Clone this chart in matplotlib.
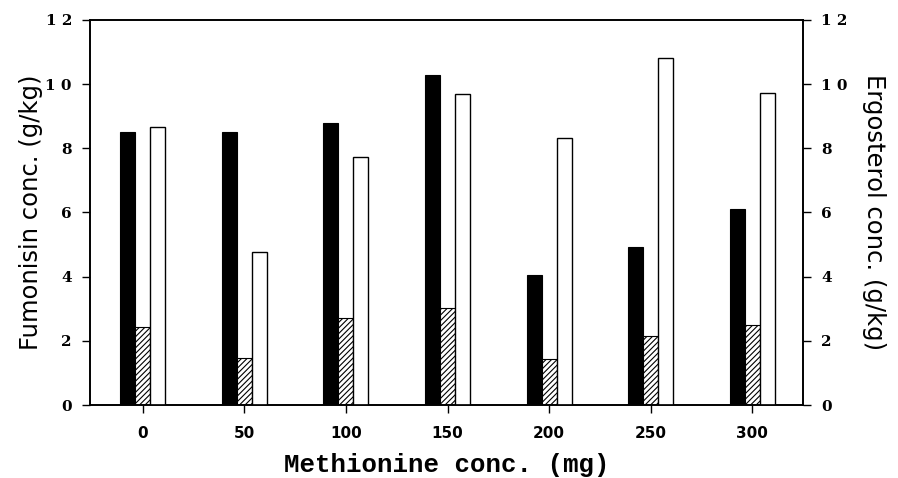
import matplotlib
matplotlib.use('Agg')
import matplotlib.pyplot as plt
import numpy as np

plt.rcParams['hatch.linewidth'] = 0.8

methionine = [0, 50, 100, 150, 200, 250, 300]
fumonisin_b1 = [8.5, 8.5, 8.8, 10.3, 4.05, 4.92, 6.1]
fumonisin_b2 = [2.42, 1.45, 2.71, 3.03, 1.42, 2.15, 2.48]
ergosterol = [8.67, 4.78, 7.74, 9.68, 8.33, 10.83, 9.73]
yticks = [0, 2, 4, 6, 8, 10, 12]
yticklabels = ['0', '2', '4', '6', '8', '1 0', '1 2']

x = np.array(methionine)
w = 7.4

fig = plt.figure(figsize=(8.98, 4.78), dpi=100)
ax = fig.add_axes([0.1002, 0.1527, 0.7940, 0.8055])

ax.bar(x - w, fumonisin_b1, width=w, color='black', edgecolor='black', linewidth=0.8)
ax.bar(x, fumonisin_b2, width=w, color='white', edgecolor='black', hatch='//////', linewidth=0.8)

ax2 = ax.twinx()
ax2.bar(x + w, ergosterol, width=w, color='white', edgecolor='black', linewidth=1.0)

ax.set_xlim(-26, 325)
for a in (ax, ax2):
    a.set_ylim(0, 12)
    a.set_yticks(yticks)
    a.set_yticklabels(yticklabels, fontfamily='DejaVu Serif', fontweight='bold', fontsize=11)
    a.tick_params(axis='y', direction='out', length=6, width=1, pad=7)
    for s in a.spines.values():
        s.set_linewidth(1.2)

ax.set_xticks(methionine)
ax.set_xticklabels([str(m) for m in methionine], fontfamily='DejaVu Sans', fontweight='bold', fontsize=11)
ax.tick_params(axis='x', direction='out', length=6, width=1, pad=9)

ax.set_xlabel('Methionine conc. (mg)', fontfamily='Liberation Mono', fontweight='bold', fontsize=18.5, labelpad=9)
ax.set_ylabel('Fumonisin conc. (g/kg)', fontfamily='DejaVu Sans', fontsize=17.5, labelpad=2)
ax2.set_ylabel('Ergosterol conc. (g/kg)', fontfamily='DejaVu Sans', fontsize=17.5, rotation=-90, labelpad=28)

fig.savefig('out.png', dpi=100)
